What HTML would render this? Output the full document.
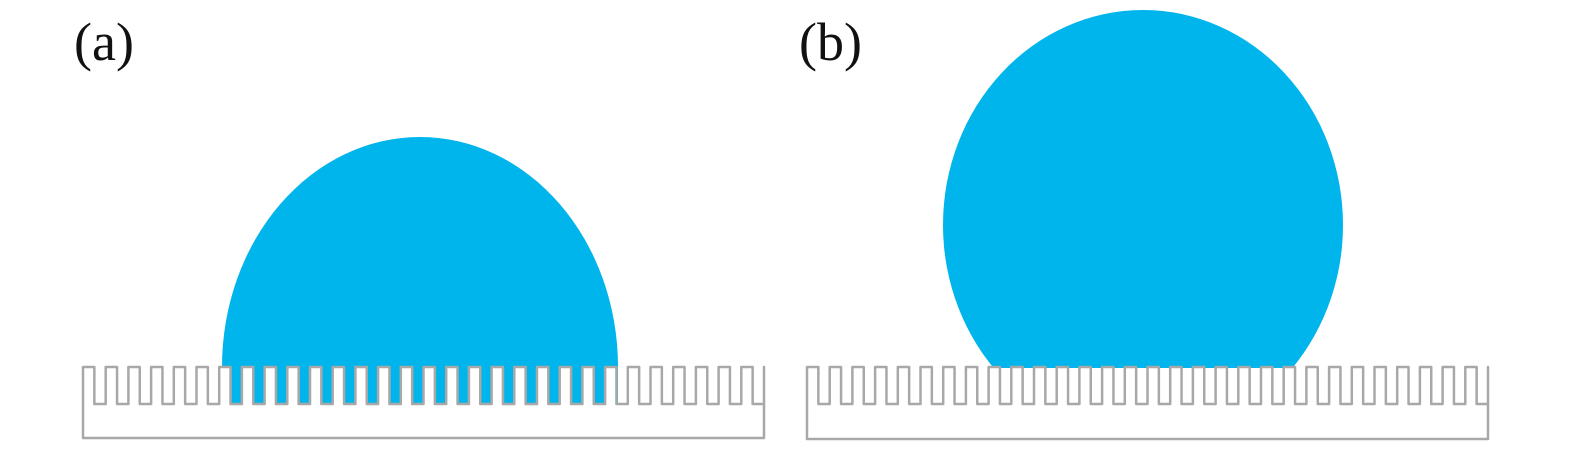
<!DOCTYPE html>
<html><head><style>
html,body{margin:0;padding:0;background:#fff;overflow:hidden;width:1575px;height:453px;}
svg{display:block;position:absolute;left:0;top:0;}
text{font-family:"Liberation Serif",serif;font-size:54px;fill:#111;}
</style></head><body>
<svg id="s" width="1575" height="453" viewBox="0 0 1575 453" xmlns="http://www.w3.org/2000/svg">
<defs>
<clipPath id="ca"><rect x="0" y="0" width="1575" height="368"/></clipPath>
</defs>
<text x="74" y="60">(a)</text>
<text x="799" y="60">(b)</text>
<ellipse cx="420" cy="367" rx="198" ry="230" fill="#00b5ec" clip-path="url(#ca)"/>
<ellipse cx="1143" cy="225" rx="200" ry="215" fill="#00b5ec" clip-path="url(#ca)"/>
<g id="g"></g>
</svg>
<script>
function sub(x0,x1,n,yt,yb,ybase,blue0,blue1){
  var p=(x1-x0)/n, h=p/2, d="M"+x0+" "+ybase+" L"+x0+" "+yt, s="";
  for(var i=0;i<n;i++){
    var a=x0+i*p;
    d+=" L"+(a+h)+" "+yt+" L"+(a+h)+" "+yb+" L"+(a+p)+" "+yb+" L"+(a+p)+" "+yt;
    var ga=a+h, gb=a+p;
    if(gb>blue0 && ga<blue1){
      var l=Math.max(ga,blue0), r=Math.min(gb,blue1);
      s+='<rect x="'+l+'" y="'+(yt-1)+'" width="'+(r-l)+'" height="'+(yb-yt+1)+'" fill="#00b5ec"/>';
    }
  }
  d+=" L"+x1+" "+ybase+" Z";
  return s+'<path d="'+d+'" fill="none" stroke="#a8a8a8" stroke-width="2.5" stroke-linejoin="round"/>';
}
document.getElementById("g").innerHTML=
  sub(83,764,30,367,404,438,224,618)+
  sub(807,1488,30,367,404,439,0,0);
</script>
</body></html>
